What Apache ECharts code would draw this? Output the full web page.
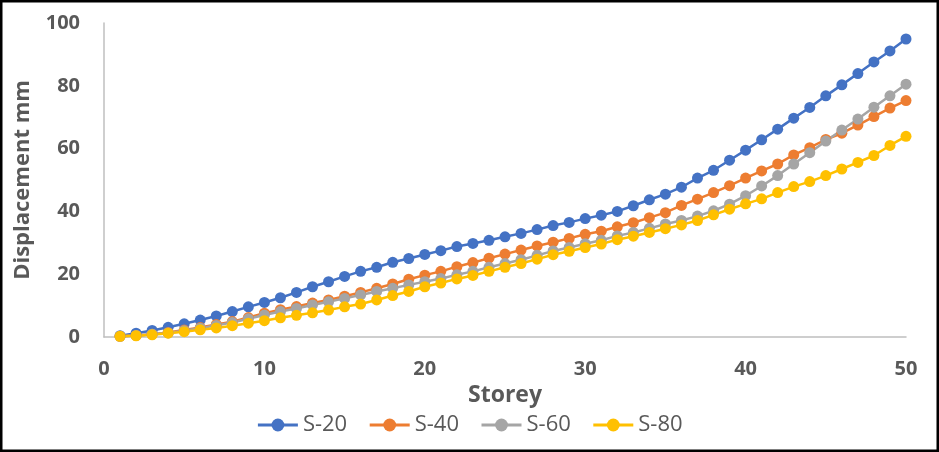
<!DOCTYPE html>
<html>
<head>
<meta charset="utf-8">
<script src="https://cdn.jsdelivr.net/npm/echarts@6/dist/echarts.min.js"></script>
<style>
html,body{margin:0;padding:0;background:#fff;}
#c{width:939px;height:452px;}
</style>
</head>
<body>
<div id="c"></div>
<script>
const storeys = [1,2,3,4,5,6,7,8,9,10,11,12,13,14,15,16,17,18,19,20,21,22,23,24,25,26,27,28,29,30,31,32,33,34,35,36,37,38,39,40,41,42,43,44,45,46,47,48,49,50];
const s20 = [0.4,1.2,2.1,3.1,4.2,5.4,6.7,8.1,9.6,11.0,12.5,14.2,16.0,17.6,19.3,20.9,22.2,23.8,25.0,26.3,27.5,28.8,29.8,30.8,31.9,33.0,34.2,35.5,36.5,37.7,38.8,40.0,41.8,43.7,45.5,47.7,50.6,53.1,56.3,59.5,62.8,66.2,69.7,73.1,76.8,80.3,83.9,87.6,91.1,94.9];
const s40 = [0.2,0.5,0.9,1.4,2.2,3.0,4.0,4.9,6.2,7.6,8.7,9.7,10.8,11.8,13.0,14.2,15.5,16.9,18.4,19.7,20.9,22.4,23.7,25.1,26.4,27.7,29.0,30.2,31.4,32.7,33.7,35.1,36.4,38.0,39.6,41.9,43.9,46.0,48.2,50.6,52.9,55.1,58.0,60.3,62.9,64.9,67.5,70.2,72.9,75.3];
const s60 = [0.2,0.5,0.9,1.3,2.0,2.8,3.7,4.6,5.8,7.0,8.1,9.1,10.2,11.2,12.3,13.4,14.5,15.5,16.6,17.6,18.6,19.8,20.9,22.2,23.4,24.6,26.0,27.4,28.5,29.7,30.8,32.2,33.3,34.6,36.0,37.1,38.5,40.2,42.3,45.0,48.1,51.4,55.1,58.7,62.4,65.9,69.4,73.2,76.8,80.5];
const s80 = [0.2,0.4,0.7,1.2,1.7,2.3,2.9,3.6,4.4,5.2,6.1,6.9,7.7,8.6,9.6,10.5,11.8,13.2,14.5,16.0,17.2,18.5,19.6,20.9,22.2,23.4,24.8,26.2,27.3,28.5,29.6,31.0,32.1,33.3,34.5,35.7,37.1,38.9,40.7,42.4,44.0,46.0,47.9,49.5,51.4,53.5,55.6,57.8,61.0,63.9];
const seriesNames = ['S-20','S-40','S-60','S-80'];
const seriesColors = ['#4472C4','#ED7D31','#A5A5A5','#FFC000'];
const seriesValues = [s20, s40, s60, s80];

const FONT = '"Open Sans", sans-serif';
const chart = echarts.init(document.getElementById('c'));
chart.setOption({
  animation: false,
  backgroundColor: '#fff',
  grid: {left: 104, right: 33, top: 23, bottom: 115, containLabel: false},
  legend: {
    data: seriesNames,
    left: 'center',
    top: 409,
    itemWidth: 40,
    itemHeight: 16,
    itemGap: 21,
    lineStyle: {width: 3},
    textStyle: {fontFamily: FONT, fontSize: 22, color: '#595959'}
  },
  xAxis: {
    type: 'value', min: 0, max: 50, interval: 10,
    name: 'Storey', nameLocation: 'middle', nameGap: 36,
    nameTextStyle: {fontFamily: FONT, fontSize: 23, fontWeight: 'bold', color: '#595959'},
    axisLine: {show: true, lineStyle: {color: '#BFBFBF', width: 1.5}},
    axisTick: {show: false},
    splitLine: {show: false},
    axisLabel: {fontFamily: FONT, fontSize: 20, fontWeight: 'bold', color: '#595959', margin: 22}
  },
  yAxis: {
    type: 'value', min: 0, max: 100, interval: 20,
    name: 'Displacement mm', nameLocation: 'middle', nameGap: 70,
    nameTextStyle: {fontFamily: FONT, fontSize: 22, fontWeight: 'bold', color: '#595959'},
    axisLine: {show: true, lineStyle: {color: '#BFBFBF', width: 1.5}},
    axisTick: {show: false},
    splitLine: {show: false},
    axisLabel: {fontFamily: FONT, fontSize: 20, fontWeight: 'bold', color: '#595959', margin: 24}
  },
  graphic: [{
    type: 'rect', silent: true, z: 100,
    shape: {x: 1.25, y: 1.25, width: 936.5, height: 449.5},
    style: {fill: 'none', stroke: '#000', lineWidth: 2.5}
  }],
  series: seriesNames.map((n, i) => ({
    name: n,
    type: 'line',
    data: storeys.map((s, j) => [s, seriesValues[i][j]]),
    symbol: 'circle',
    symbolSize: 11,
    showSymbol: true,
    itemStyle: {color: seriesColors[i]},
    lineStyle: {color: seriesColors[i], width: 2.5}
  }))
});
</script>
</body>
</html>
